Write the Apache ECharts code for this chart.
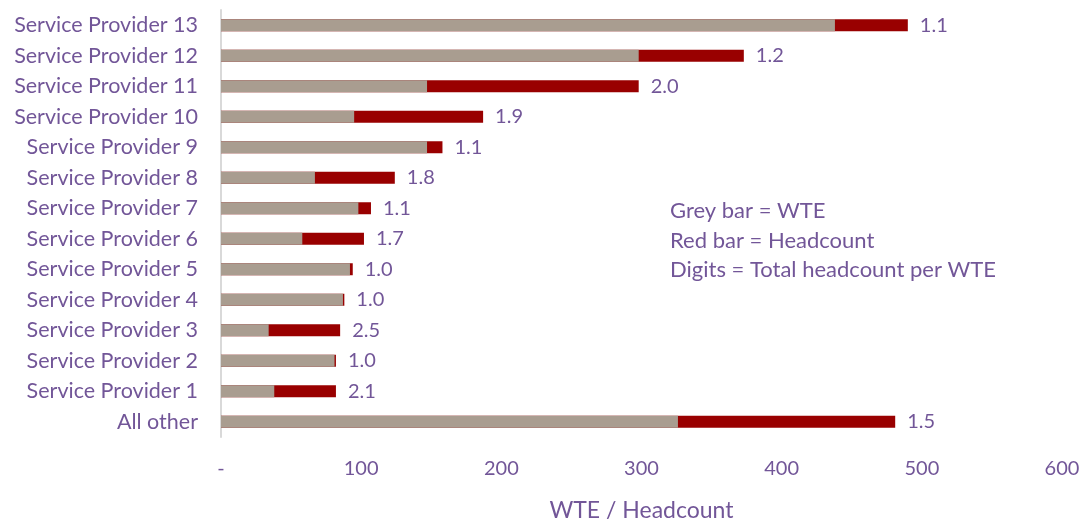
<!DOCTYPE html>
<html>
<head>
<meta charset="utf-8">
<script src="https://cdn.jsdelivr.net/npm/echarts@6/dist/echarts.min.js"></script>
<style>
html, body { margin: 0; padding: 0; background: #fff; }
#main { width: 1084px; height: 519px; }
</style>
</head>
<body>
<div id="main"></div>
<script type="text/javascript">
// 数据 (从上到下)
var providers = ['Service Provider 13', 'Service Provider 12', 'Service Provider 11', 'Service Provider 10',
	'Service Provider 9', 'Service Provider 8', 'Service Provider 7', 'Service Provider 6',
	'Service Provider 5', 'Service Provider 4', 'Service Provider 3', 'Service Provider 2',
	'Service Provider 1', 'All other'];
var wte = [438, 298, 147, 95, 147, 67, 98, 58, 92, 87, 34, 81, 38, 326];
var headcount = [490, 373, 298, 187, 158, 124, 107, 102, 94, 88, 85, 82, 82, 481];
var perWte = ['1.1', '1.2', '2.0', '1.9', '1.1', '1.8', '1.1', '1.7', '1.0', '1.0', '2.5', '1.0', '2.1', '1.5'];
var noteLines = ['Grey bar = WTE', 'Red bar = Headcount', 'Digits = Total headcount per WTE'];

var purple = '#725698';
var font = 'Lato';

var chart = echarts.init(document.getElementById('main'));

var notes = [];
for (var i = 0; i < noteLines.length; i++) {
	notes.push({
		type: 'text',
		left: 670,
		top: 200 + i * 29.5,
		style: { text: noteLines[i], fill: purple, font: '22px ' + font }
	});
}

chart.setOption({
	animation: false,
	grid: { left: 221, right: 22, top: 10, bottom: 82, outerBoundsMode: 'none' },
	xAxis: {
		type: 'value',
		min: 0,
		max: 600,
		interval: 100,
		axisLine: { show: false },
		axisTick: { show: false },
		splitLine: { show: false },
		axisLabel: {
			color: purple, fontFamily: font, fontSize: 20, margin: 22,
			formatter: function (v) { return v === 0 ? '-' : String(v); }
		},
		name: 'WTE / Headcount',
		nameLocation: 'middle',
		nameGap: 62,
		nameTextStyle: { color: purple, fontFamily: font, fontSize: 23 }
	},
	yAxis: {
		type: 'category',
		inverse: true,
		data: providers,
		axisLine: { lineStyle: { color: '#d9d9d9', width: 2 } },
		axisTick: { show: false },
		axisLabel: { color: purple, fontFamily: font, fontSize: 21.5, margin: 23 }
	},
	series: [
		{
			name: 'Headcount',
			type: 'bar',
			data: headcount,
			barWidth: 12,
			barGap: '-100%',
			itemStyle: { color: '#990000' },
			label: {
				show: true,
				position: 'right',
				distance: 12,
				color: purple,
				fontFamily: font,
				fontSize: 20,
				formatter: function (p) { return perWte[p.dataIndex]; }
			},
			z: 2
		},
		{
			name: 'WTE',
			type: 'bar',
			data: wte,
			barWidth: 12,
			barGap: '-100%',
			itemStyle: { color: '#a99d90' },
			z: 3
		}
	],
	graphic: notes
});
</script>
</body>
</html>
